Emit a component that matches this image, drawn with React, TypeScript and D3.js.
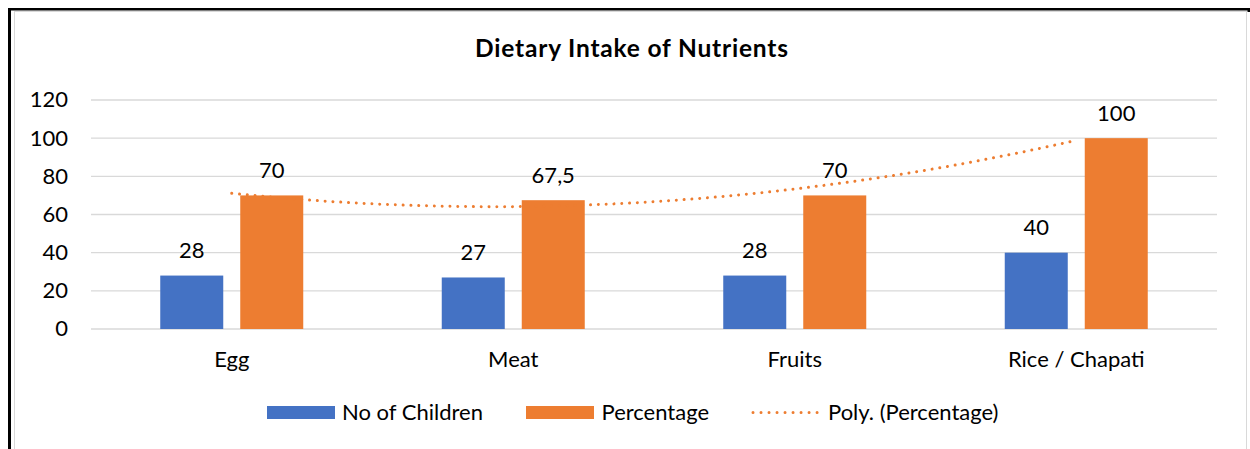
import React, { useEffect, useRef } from 'react';
import * as d3 from 'd3';

const categories = ['Egg', 'Meat', 'Fruits', 'Rice / Chapati'];
const seriesNames = ['No of Children', 'Percentage'];
const children = [28, 27, 28, 40];
const percentage = [70, 67.5, 70, 100];
const yTicks = [0, 20, 40, 60, 80, 100, 120];
const valueLabels = [
  ['28', '27', '28', '40'],
  ['70', '67,5', '70', '100'],
];
const colors = ['#4472C4', '#ED7D31'];

// least squares fit, order 2, x = 1..n (like Excel's Poly. trendline)
function polyFit(ys: number[]) {
  const xs = ys.map((_, i) => i + 1);
  const S = (p: number) => d3.sum(xs, x => Math.pow(x, p));
  const T = (p: number) => d3.sum(xs, (x, i) => Math.pow(x, p) * ys[i]);
  const A = [
    [S(0), S(1), S(2), T(0)],
    [S(1), S(2), S(3), T(1)],
    [S(2), S(3), S(4), T(2)],
  ];
  for (let c = 0; c < 3; c++) {
    for (let r = c + 1; r < 3; r++) {
      const f = A[r][c] / A[c][c];
      for (let k = c; k < 4; k++) A[r][k] -= f * A[c][k];
    }
  }
  const coef = [0, 0, 0];
  for (let r = 2; r >= 0; r--) {
    let s = A[r][3];
    for (let k = r + 1; k < 3; k++) s -= A[r][k] * coef[k];
    coef[r] = s / A[r][r];
  }
  return (x: number) => coef[0] + coef[1] * x + coef[2] * x * x;
}

export default function App() {
  const svgRef = useRef<SVGSVGElement>(null);

  useEffect(() => {
    const W = 1250, H = 449;
    const font = 'Lato, Carlito, Calibri, sans-serif';
    const svg = d3.select(svgRef.current);
    svg.selectAll('*').remove();
    svg.attr('width', W).attr('height', H);

    svg.append('rect').attr('width', W).attr('height', H).attr('fill', '#fff');

    // chart frame
    svg.append('rect')
      .attr('x', 14.5).attr('y', 11.5).attr('width', 1232).attr('height', 460)
      .attr('fill', '#fff').attr('stroke', '#d9d9d9').attr('stroke-width', 1);
    svg.append('rect').attr('x', 8).attr('y', 8).attr('width', W - 8).attr('height', 2.5).attr('fill', '#000');
    svg.append('rect').attr('x', 8).attr('y', 8).attr('width', 3).attr('height', H - 8).attr('fill', '#000');
    svg.append('rect').attr('x', 1247.5).attr('y', 8).attr('width', 2.5).attr('height', 4).attr('fill', '#000');

    const left = 91, right = 1217, top = 100, bottom = 329;

    const x = d3.scaleBand().domain(categories).range([left, right]).padding(0);
    const y = d3.scaleLinear().domain([0, 120]).range([bottom, top]);

    const groupW = x.bandwidth() * 0.508;
    const xs = d3.scaleBand().domain(seriesNames).range([-groupW / 2, groupW / 2]).paddingInner(0.2125);

    // title
    svg.append('text')
      .attr('x', 631.5).attr('y', 57)
      .attr('text-anchor', 'middle')
      .attr('font-family', font).attr('font-weight', 'bold').attr('font-size', 24.5)
      .attr('textLength', 313).attr('lengthAdjust', 'spacing')
      .attr('fill', '#000')
      .text('Dietary Intake of Nutrients');

    // gridlines + y labels
    const grid = svg.append('g');
    yTicks.forEach(t => {
      grid.append('line')
        .attr('x1', left).attr('x2', right)
        .attr('y1', y(t)).attr('y2', y(t))
        .attr('stroke', '#d9d9d9').attr('stroke-width', 1.4);
      grid.append('text')
        .attr('x', 68).attr('y', y(t)).attr('dy', '0.34em')
        .attr('text-anchor', 'end')
        .attr('font-family', font).attr('font-size', 22)
        .attr('fill', '#000')
        .text(t);
    });

    // bars
    const seriesData = [children, percentage];
    seriesData.forEach((vals, si) => {
      const g = svg.append('g');
      g.selectAll('rect')
        .data(vals)
        .join('rect')
        .attr('x', (d, i) => x(categories[i])! + x.bandwidth() / 2 + xs(seriesNames[si])!)
        .attr('y', d => y(d))
        .attr('width', xs.bandwidth())
        .attr('height', d => y(0) - y(d))
        .attr('fill', colors[si]);
      g.selectAll('text')
        .data(vals)
        .join('text')
        .attr('x', (d, i) => x(categories[i])! + x.bandwidth() / 2 + xs(seriesNames[si])! + xs.bandwidth() / 2)
        .attr('y', d => y(d) - 17.5)
        .attr('text-anchor', 'middle')
        .attr('font-family', font).attr('font-size', 22)
        .attr('fill', '#000')
        .text((d, i) => valueLabels[si][i]);
    });

    // category labels
    svg.append('g').selectAll('text')
      .data(categories)
      .join('text')
      .attr('x', d => x(d)! + x.bandwidth() / 2)
      .attr('y', 366.5)
      .attr('text-anchor', 'middle')
      .attr('font-family', font).attr('font-size', 22)
      .attr('fill', '#000')
      .text(d => d);

    // polynomial trendline on percentage
    const fit = polyFit(percentage);
    const xc = d3.scaleLinear()
      .domain([1, categories.length])
      .range([x(categories[0])! + x.bandwidth() / 2, x(categories[categories.length - 1])! + x.bandwidth() / 2]);
    const pts = d3.range(0, 121).map(k => 1 + (k / 120) * (categories.length - 1));
    const line = d3.line<number>().x(v => xc(v)).y(v => y(fit(v)));
    svg.append('path')
      .datum(pts)
      .attr('d', line)
      .attr('fill', 'none')
      .attr('stroke', colors[1])
      .attr('stroke-width', 3)
      .attr('stroke-linecap', 'round')
      .attr('stroke-dasharray', '0.01 7.8');

    // legend
    const lg = svg.append('g');
    const legendItems = [
      { type: 'rect', color: colors[0], x0: 267, tx: 342, label: seriesNames[0] },
      { type: 'rect', color: colors[1], x0: 526, tx: 601.5, label: seriesNames[1] },
      { type: 'line', color: colors[1], x0: 753, tx: 828, label: 'Poly. (Percentage)' },
    ];
    legendItems.forEach(it => {
      if (it.type === 'rect') {
        lg.append('rect').attr('x', it.x0).attr('y', 406).attr('width', 68).attr('height', 13).attr('fill', it.color);
      } else {
        lg.append('line')
          .attr('x1', it.x0).attr('x2', it.x0 + 65).attr('y1', 412.5).attr('y2', 412.5)
          .attr('stroke', it.color).attr('stroke-width', 3)
          .attr('stroke-linecap', 'round').attr('stroke-dasharray', '0.01 8');
      }
      lg.append('text')
        .attr('x', it.tx).attr('y', 420)
        .attr('font-family', font).attr('font-size', 22)
        .attr('fill', '#000')
        .text(it.label);
    });
  }, []);

  return (
    <div style={{ position: 'absolute', left: 0, top: 0 }}>
      <svg ref={svgRef} style={{ display: 'block' }}></svg>
    </div>
  );
}
